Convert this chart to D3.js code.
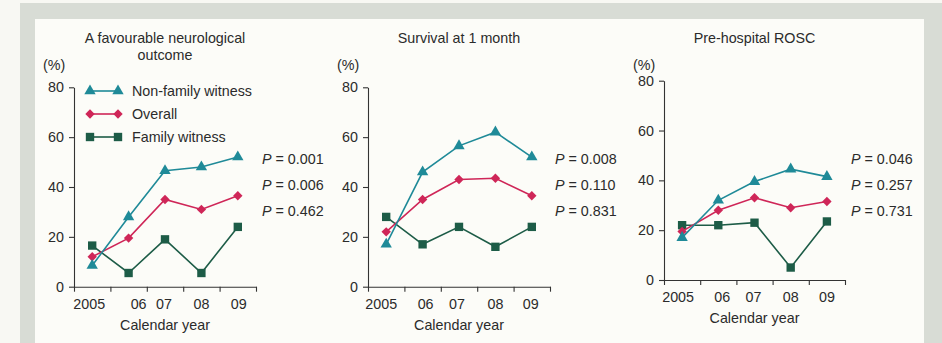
<!DOCTYPE html>
<html>
<head>
<meta charset="utf-8">
<script src="https://cdn.jsdelivr.net/npm/d3@7"></script>
<style>
  body { margin: 0; background: #f8f8f3; }
  svg { display: block; font-family: "Liberation Sans", Arial, sans-serif; }
  .axis text { font-size: 14.3px; fill: #2b2b2b; }
  .axis path, .axis line { stroke: #333; stroke-width: 1.1; }
  .lbl { font-size: 14.3px; fill: #2b2b2b; }
</style>
</head>
<body>
<svg width="942" height="343"></svg>
<script>
// categories
var years = ["2005", "06", "07", "08", "09"];
var yTicks = [0, 20, 40, 60, 80];

// panel titles (one array of lines per panel)
var titles = [
  ["A favourable neurological", "outcome"],
  ["Survival at 1 month"],
  ["Pre-hospital ROSC"]
];

// series values, in %
var nonFamily = [
  [8.5, 28, 46.5, 48, 52],
  [17, 46, 56.5, 62, 52],
  [17, 32, 39.5, 44.5, 41.5]
];
var overall = [
  [12, 19.5, 35, 31, 36.5],
  [22, 35, 43, 43.5, 36.5],
  [19.5, 28, 33, 29, 31.5]
];
var family = [
  [16.5, 5.5, 19, 5.5, 24],
  [28, 17, 24, 16, 24],
  [22, 22, 23, 5, 23.5]
];

// p-values per panel: non-family, overall, family
var pValues = [
  ["0.001", "0.006", "0.462"],
  ["0.008", "0.110", "0.831"],
  ["0.046", "0.257", "0.731"]
];

var seriesNames = ["Non-family witness", "Overall", "Family witness"];
var seriesColors = ["#1f8a98", "#cf2658", "#1d5c47"];
var seriesSymbols = [d3.symbolTriangle, d3.symbolSquare, d3.symbolSquare];
var seriesSizes = [56, 44, 70];
var seriesRotate = [0, 45, 0];

// the year labels in the original sit a little off the band centres
var labelShift = [[-3, 10, -1, 0, 1], [-5, 3, -2, 0, -1], [-4, 4, -1, 0, 0]];

var svg = d3.select("svg");

// frame
svg.append("rect").attr("x", 20).attr("y", 3).attr("width", 930).attr("height", 350)
  .attr("fill", "#d8dcd5");
svg.append("rect").attr("x", 35).attr("y", 19).attr("width", 889).attr("height", 330)
  .attr("fill", "#fcfcf8");

// panel placement
var panels = [
  { left: 74, right: 256, top: 87.3, bottom: 286.7, pX: 262 },
  { left: 368, right: 550, top: 87.3, bottom: 286.7, pX: 555 },
  { left: 664, right: 845, top: 80.7, bottom: 280, pX: 851 }
];

function marker(sel, s, x, yy) {
  sel.append("path")
    .attr("d", d3.symbol().type(seriesSymbols[s]).size(seriesSizes[s]))
    .attr("transform", "translate(" + x + "," + yy + ") rotate(" + seriesRotate[s] + ")")
    .attr("fill", seriesColors[s]);
}

panels.forEach(function(p, i) {
  var g = svg.append("g");

  var y = d3.scaleLinear().domain([0, 80]).range([p.bottom, p.top]);
  var xl = d3.scaleLinear().domain([0, years.length]).range([p.left, p.right]);
  var xb = d3.scaleBand().domain(years).range([p.left, p.right]);

  // y axis
  g.append("g")
    .attr("class", "axis")
    .attr("transform", "translate(" + p.left + ",0)")
    .call(d3.axisLeft(y).tickValues(yTicks).tickSize(5).tickSizeOuter(0).tickPadding(5))
    .selectAll("text").attr("font-family", null);

  // x axis ticks at band edges
  g.append("g")
    .attr("class", "axis")
    .attr("transform", "translate(0," + p.bottom + ")")
    .call(d3.axisBottom(xl).tickValues(d3.range(years.length + 1)).tickFormat("").tickSize(5).tickSizeOuter(0));

  // year labels at band centres
  var lab = g.append("g")
    .attr("class", "axis")
    .attr("transform", "translate(0," + p.bottom + ")")
    .call(d3.axisBottom(xb).tickSize(0).tickPadding(12));
  lab.select(".domain").remove();
  lab.selectAll("text")
    .attr("font-family", null)
    .attr("dx", function(d, j) { return labelShift[i][j]; });

  // axis title
  g.append("text").attr("class", "lbl")
    .attr("x", (p.left + p.right) / 2).attr("y", p.bottom + 43)
    .attr("text-anchor", "middle").text("Calendar year");

  // unit
  g.append("text").attr("class", "lbl")
    .attr("x", p.left - 31).attr("y", 70)
    .text("(%)");

  // chart title
  titles[i].forEach(function(t, k) {
    g.append("text").attr("class", "lbl")
      .attr("x", (p.left + p.right) / 2).attr("y", 43 + k * 17)
      .attr("text-anchor", "middle").text(t);
  });

  var cx = function(j) { return xb(years[j]) + xb.bandwidth() / 2; };
  var line = d3.line()
    .x(function(d, j) { return cx(j); })
    .y(function(d) { return y(d); });

  [family[i], overall[i], nonFamily[i]].forEach(function(vals, r) {
    var s = 2 - r;
    g.append("path")
      .attr("d", line(vals))
      .attr("fill", "none")
      .attr("stroke", seriesColors[s])
      .attr("stroke-width", 1.6);
    vals.forEach(function(v, j) { marker(g, s, cx(j), y(v)); });
  });

  // p-values
  pValues[i].forEach(function(v, k) {
    var t = g.append("text").attr("class", "lbl")
      .attr("x", p.pX).attr("y", 164 + k * 26);
    t.append("tspan").attr("font-style", "italic").text("P");
    t.append("tspan").text(" = " + v);
  });
});

// legend in first panel
var lg = svg.append("g");
seriesNames.forEach(function(name, s) {
  var ly = 91 + s * 23;
  lg.append("line")
    .attr("x1", 90).attr("x2", 118).attr("y1", ly).attr("y2", ly)
    .attr("stroke", seriesColors[s]).attr("stroke-width", 1.6);
  marker(lg, s, 90, ly);
  marker(lg, s, 118, ly);
  lg.append("text").attr("class", "lbl")
    .attr("x", 132).attr("y", ly + 5).text(name);
});
</script>
</body>
</html>
